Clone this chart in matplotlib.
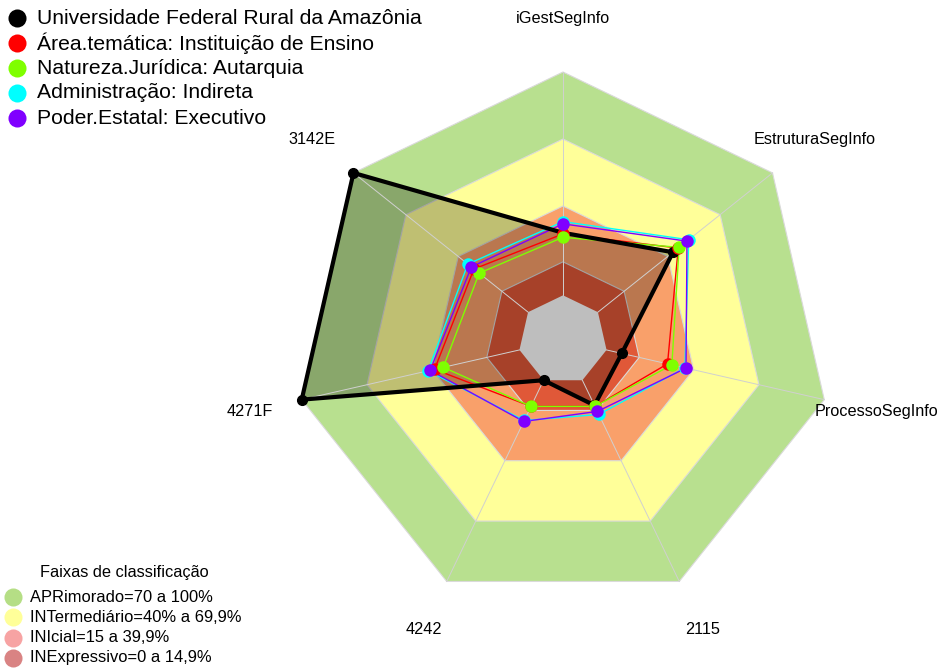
import numpy as np
import matplotlib.pyplot as plt

plt.rcParams['font.family'] = ['Liberation Sans', 'DejaVu Sans']

# eixos do radar (sentido horario a partir do topo)
axis_labels = ['iGestSegInfo', 'EstruturaSegInfo', 'ProcessoSegInfo',
               '2115', '4242', '4271F', '3142E']

# valores (0 a 1)
ufra = [0.28, 0.43, 0.07, 0.125, 0.0, 1.0, 1.0]
area_tematica = [0.275, 0.46, 0.28, 0.13, 0.13, 0.39, 0.31]
natureza_juridica = [0.26, 0.465, 0.30, 0.13, 0.13, 0.35, 0.28]
administracao = [0.33, 0.52, 0.36, 0.17, 0.20, 0.42, 0.345]
poder_estatal = [0.32, 0.51, 0.365, 0.155, 0.205, 0.41, 0.325]

series_names = ['Universidade Federal Rural da Amazônia',
                'Área.temática: Instituição de Ensino',
                'Natureza.Jurídica: Autarquia',
                'Administração: Indireta',
                'Poder.Estatal: Executivo']
series_colors = ['black', '#FF0000', '#7FFF00', '#00FFFF', '#8000FF']

# faixas de classificacao
band_limits = [1.0, 0.70, 0.40, 0.15]
band_colors = ['#B8E08F', '#FFFF99', '#F9A06A', '#E05838']
band_names = ['APRimorado=70 a 100%', 'INTermediário=40% a 69,9%',
              'INIcial=15 a 39,9%', 'INExpressivo=0 a 14,9%']
band_legend_colors = ['#B5DE85', '#FFFF99', '#F7A3A3', '#D98383']

CX, CY, R = 563, 340, 268
HOLE = 1 / 6
n = len(axis_labels)
ang = np.pi / 2 - 2 * np.pi * np.arange(n) / n


def to_xy(vals, scale=1.0):
    r = R * scale * (HOLE + (1 - HOLE) * np.asarray(vals, dtype=float))
    x = CX + r * np.cos(ang)
    y = CY - r * np.sin(ang)
    return np.append(x, x[0]), np.append(y, y[0])


fig = plt.figure(figsize=(9.44, 6.68), dpi=100)
ax = fig.add_axes([0, 0, 1, 1])
ax.set_xlim(0, 944)
ax.set_ylim(668, 0)
ax.axis('off')

# fundo em faixas
for lim, col in zip(band_limits, band_colors):
    x, y = to_xy([lim] * n)
    ax.fill(x, y, color=col, ec='#DADADA', lw=0.8, zorder=1)

# preenchimento da instituicao
x, y = to_xy(ufra)
ax.fill(x, y, color='black', alpha=0.25, lw=0, zorder=2)

# raios
xo, yo = to_xy([1.0] * n)
xi, yi = to_xy([0.0] * n)
for i in range(n):
    ax.plot([xi[i], xo[i]], [yi[i], yo[i]], color='#D0D0D0', lw=0.7, zorder=3)

# centro
ax.fill(xi, yi, color='#BEBEBE', lw=0, zorder=3.5)

# series
all_series = [ufra, area_tematica, natureza_juridica, administracao, poder_estatal]
for k, (vals, col) in enumerate(zip(all_series, series_colors)):
    x, y = to_xy(vals)
    if k == 0:
        ax.plot(x, y, color=col, lw=3, zorder=5)
        ax.plot(x[:-1], y[:-1], 'o', color=col, ms=7, zorder=5)
    else:
        ax.plot(x, y, color=col, lw=1, zorder=4)
        ax.plot(x[:-1], y[:-1], 'o', color=col, ms=9, mec='none', zorder=6)

# rotulos dos eixos
xl, yl = to_xy([1.0] * n, scale=1.2)
for i, lab in enumerate(axis_labels):
    ax.text(xl[i], yl[i], lab, ha='center', va='center', fontsize=11.7, zorder=7)

# legenda das series
for k, (name, col) in enumerate(zip(series_names, series_colors)):
    yy = 18 + 25 * k
    ax.plot(17, yy, 'o', color=col, ms=13, mec='none', clip_on=False)
    ax.text(37, yy, name, ha='left', va='center', fontsize=15.2)

# legenda das faixas
ax.text(124, 572, 'Faixas de classificação', ha='center', va='center', fontsize=11.8)
for k, (name, col) in enumerate(zip(band_names, band_legend_colors)):
    yy = 597 + 20.3 * k
    ax.plot(13, yy, 'o', color=col, ms=13, mec='none', clip_on=False)
    ax.text(30, yy, name, ha='left', va='center', fontsize=11.9)

fig.savefig('out.png', dpi=100)
